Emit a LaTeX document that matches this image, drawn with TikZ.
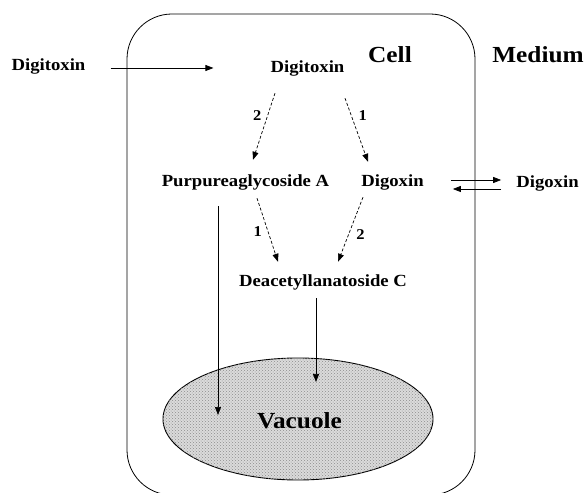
\documentclass[tikz,border=0pt]{standalone}
\usepackage{fontspec}
\setmainfont{Liberation Serif}[FakeStretch=1.1]
\usetikzlibrary{arrows.meta,calc,patterns,shapes.geometric}
\begin{document}
\begin{tikzpicture}[x=1pt,y=1pt,
 lbl/.style={font=\bfseries\fontsize{17}{17}\selectfont, inner sep=0pt, anchor=base, text height=12pt, text depth=4pt},
 big/.style={font=\bfseries\fontsize{23}{23}\selectfont, inner sep=0pt, anchor=base},
 num/.style={font=\bfseries\fontsize{15}{15}\selectfont, inner sep=0pt},
 arr/.style={line width=0.7pt, -{Triangle[length=8pt,width=6pt]}},
 darr/.style={arr, dash pattern=on 3pt off 2pt},
]
\useasboundingbox (0,0) rectangle (585,492);
\begin{scope}
\clip (0,0) rectangle (585,492);
\draw[line width=0.8pt, rounded corners=45pt] (127,-3) rectangle (475,478);
\end{scope}
\node[ellipse, draw, line width=0.9pt, minimum width=270pt, minimum height=122pt, inner sep=0pt,
  fill=gray!28, postaction={pattern=crosshatch dots, pattern color=gray!90}] (vac) at (298,73) {};
\node[big] (vact) at (299.5,64) {Vacuole};

\node[lbl] (digL) at (48.5,421) {Digitoxin};
\node[lbl] (digi) at (307.5,419) {Digitoxin};
\node[big] (cell) at (390,429) {Cell};
\node[big] (med) at (538,429) {Medium};
\node[lbl] (pur) at (245.5,305) {Purpureaglycoside A};
\node[lbl] (dig) at (392.5,305) {Digoxin};
\node[lbl] (digR) at (547.5,304) {Digoxin};
\node[lbl] (dea) at (323,205) {Deacetyllanatoside C};

\draw[arr] ($(digL.east)+(25,-1)$) -- ($(digi.west)+(-57,1)$);
\draw[darr] ($(digi.south)+(-32.5,-16)$) -- node[num, pos=0.33, left=6pt] (l2a) {2} ($(pur.north)+(7.5,15)$);
\draw[darr] ($(digi.south)+(37.5,-21)$) -- node[num, pos=0.27, right=7pt] (l1a) {1} ($(dig.north)+(-24.5,13)$);
\draw[darr] ($(pur.south)+(11.5,-7)$) -- node[num, pos=0.53, left=6pt] (l1b) {1} ($(dea.north)+(-45,13)$);
\draw[darr] ($(dig.south)+(-29.5,-6)$) -- node[num, pos=0.58, right=7.5pt] (l2b) {2} ($(dea.north)+(15,13)$);
\draw[arr] ($(pur.south)+(-27.5,-15)$) -- ($(vac.center)+(-80,4)$);
\draw[arr] ($(dea.south)+(-7,-7)$) -- ($(vac.center)+(18,37)$);
\draw[arr] ($(dig.east)+(27,3)$) -- ($(digR.west)+(-15,4)$);
\draw[arr] ($(digR.west)+(-15,-5)$) -- ($(dig.east)+(29,-6)$);
\end{tikzpicture}
\end{document}
